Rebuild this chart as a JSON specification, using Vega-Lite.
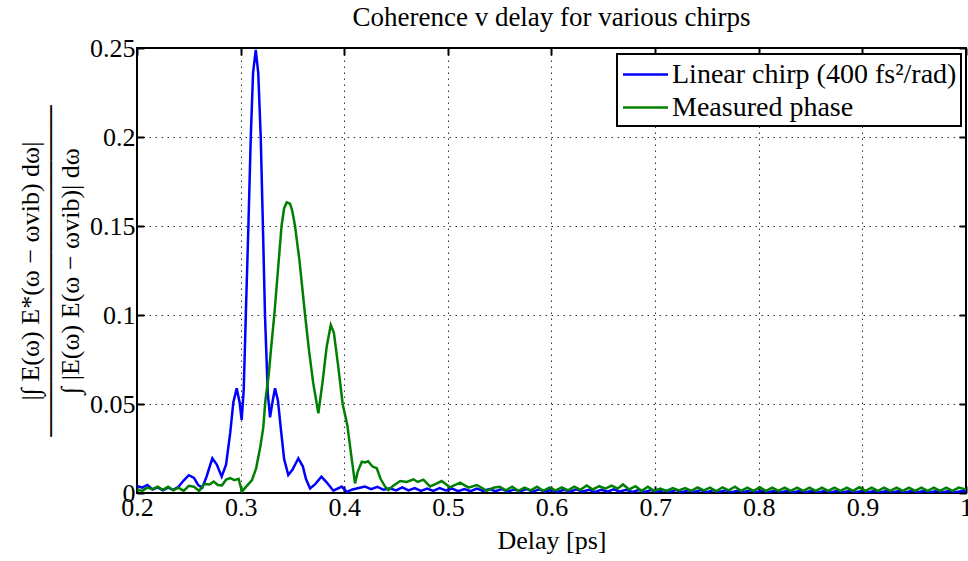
{
  "$schema": "https://vega.github.io/schema/vega-lite/v6.json",
  "autosize": "none",
  "width": 829,
  "height": 445,
  "padding": {"left": 137, "top": 48, "right": 2, "bottom": 68},
  "background": "white",
  "config": {"font": "Liberation Serif", "view": {"stroke": "black", "strokeWidth": 2}},
  "title": {"text": "Coherence v delay for various chirps", "font": "Liberation Serif", "fontSize": 27, "fontWeight": "normal", "color": "black", "anchor": "middle", "offset": 3},
  "datasets": {
    "lin": [
{"series":"Linear","delay":0.200,"coh":0.004},{"series":"Linear","delay":0.205,"coh":0.003},{"series":"Linear","delay":0.210,"coh":0.0045},{"series":"Linear","delay":0.215,"coh":0.002},{"series":"Linear","delay":0.220,"coh":0.0032},{"series":"Linear","delay":0.225,"coh":0.0015},{"series":"Linear","delay":0.230,"coh":0.003},{"series":"Linear","delay":0.235,"coh":0.0018},{"series":"Linear","delay":0.240,"coh":0.0035},{"series":"Linear","delay":0.245,"coh":0.007},{"series":"Linear","delay":0.250,"coh":0.0100},{"series":"Linear","delay":0.255,"coh":0.0085},{"series":"Linear","delay":0.259,"coh":0.0045},{"series":"Linear","delay":0.263,"coh":0.003},{"series":"Linear","delay":0.267,"coh":0.009},{"series":"Linear","delay":0.2727,"coh":0.0195},{"series":"Linear","delay":0.277,"coh":0.016},{"series":"Linear","delay":0.2817,"coh":0.0092},{"series":"Linear","delay":0.286,"coh":0.016},{"series":"Linear","delay":0.290,"coh":0.034},{"series":"Linear","delay":0.293,"coh":0.051},{"series":"Linear","delay":0.2962,"coh":0.0588},{"series":"Linear","delay":0.299,"coh":0.051},{"series":"Linear","delay":0.301,"coh":0.041},{"series":"Linear","delay":0.303,"coh":0.058},{"series":"Linear","delay":0.305,"coh":0.1},{"series":"Linear","delay":0.3075,"coh":0.15},{"series":"Linear","delay":0.3098,"coh":0.2},{"series":"Linear","delay":0.312,"coh":0.236},{"series":"Linear","delay":0.3146,"coh":0.249},{"series":"Linear","delay":0.317,"coh":0.236},{"series":"Linear","delay":0.3194,"coh":0.2},{"series":"Linear","delay":0.3215,"coh":0.15},{"series":"Linear","delay":0.3235,"coh":0.1},{"series":"Linear","delay":0.3262,"coh":0.056},{"series":"Linear","delay":0.3284,"coh":0.0425},{"series":"Linear","delay":0.331,"coh":0.052},{"series":"Linear","delay":0.3332,"coh":0.0588},{"series":"Linear","delay":0.336,"coh":0.052},{"series":"Linear","delay":0.339,"coh":0.035},{"series":"Linear","delay":0.342,"coh":0.019},{"series":"Linear","delay":0.346,"coh":0.0101},{"series":"Linear","delay":0.350,"coh":0.013},{"series":"Linear","delay":0.3557,"coh":0.0195},{"series":"Linear","delay":0.360,"coh":0.015},{"series":"Linear","delay":0.363,"coh":0.008},{"series":"Linear","delay":0.367,"coh":0.0026},{"series":"Linear","delay":0.372,"coh":0.005},{"series":"Linear","delay":0.378,"coh":0.0092},{"series":"Linear","delay":0.383,"coh":0.006},{"series":"Linear","delay":0.3895,"coh":0.0013},{"series":"Linear","delay":0.3976,"coh":0.0036},{"series":"Linear","delay":0.4024,"coh":0.0006},{"series":"Linear","delay":0.408,"coh":0.002},{"series":"Linear","delay":0.414,"coh":0.0028},{"series":"Linear","delay":0.420,"coh":0.0036},{"series":"Linear","delay":0.426,"coh":0.0022},{"series":"Linear","delay":0.432,"coh":0.0035},{"series":"Linear","delay":0.438,"coh":0.0018},{"series":"Linear","delay":0.444,"coh":0.0026},{"series":"Linear","delay":0.450,"coh":0.0015},{"series":"Linear","delay":0.456,"coh":0.0032},{"series":"Linear","delay":0.462,"coh":0.0015},{"series":"Linear","delay":0.468,"coh":0.0028},{"series":"Linear","delay":0.474,"coh":0.0012},{"series":"Linear","delay":0.480,"coh":0.0025},{"series":"Linear","delay":0.486,"coh":0.0012},{"series":"Linear","delay":0.492,"coh":0.0028},{"series":"Linear","delay":0.498,"coh":0.0015},{"series":"Linear","delay":0.504,"coh":0.0025},{"series":"Linear","delay":0.510,"coh":0.001},{"series":"Linear","delay":0.516,"coh":0.0022},{"series":"Linear","delay":0.522,"coh":0.001},{"series":"Linear","delay":0.528,"coh":0.0025},{"series":"Linear","delay":0.534,"coh":0.0012},{"series":"Linear","delay":0.540,"coh":0.0022},{"series":"Linear","delay":0.546,"coh":0.001},{"series":"Linear","delay":0.552,"coh":0.0022},{"series":"Linear","delay":0.558,"coh":0.0008},{"series":"Linear","delay":0.564,"coh":0.002},{"series":"Linear","delay":0.570,"coh":0.001},{"series":"Linear","delay":0.576,"coh":0.0022},{"series":"Linear","delay":0.582,"coh":0.0008},{"series":"Linear","delay":0.588,"coh":0.002},{"series":"Linear","delay":0.594,"coh":0.0008},{"series":"Linear","delay":0.600,"coh":0.0018},{"series":"Linear","delay":0.606,"coh":0.0006},{"series":"Linear","delay":0.612,"coh":0.0018},{"series":"Linear","delay":0.618,"coh":0.0008},{"series":"Linear","delay":0.624,"coh":0.002},{"series":"Linear","delay":0.630,"coh":0.0008},{"series":"Linear","delay":0.636,"coh":0.0018},{"series":"Linear","delay":0.642,"coh":0.0006},{"series":"Linear","delay":0.648,"coh":0.0018},{"series":"Linear","delay":0.654,"coh":0.0008},{"series":"Linear","delay":0.660,"coh":0.002},{"series":"Linear","delay":0.666,"coh":0.0008},{"series":"Linear","delay":0.672,"coh":0.0018},{"series":"Linear","delay":0.678,"coh":0.0006},{"series":"Linear","delay":0.684,"coh":0.0016},{"series":"Linear","delay":0.690,"coh":0.0006},{"series":"Linear","delay":0.696,"coh":0.0016},{"series":"Linear","delay":0.702,"coh":0.0006},{"series":"Linear","delay":0.708,"coh":0.0015},{"series":"Linear","delay":0.714,"coh":0.0006},{"series":"Linear","delay":0.720,"coh":0.0016},{"series":"Linear","delay":0.726,"coh":0.0005},{"series":"Linear","delay":0.732,"coh":0.0015},{"series":"Linear","delay":0.738,"coh":0.0006},{"series":"Linear","delay":0.744,"coh":0.0016},{"series":"Linear","delay":0.750,"coh":0.0005},{"series":"Linear","delay":0.756,"coh":0.0015},{"series":"Linear","delay":0.762,"coh":0.0006},{"series":"Linear","delay":0.768,"coh":0.0015},{"series":"Linear","delay":0.774,"coh":0.0005},{"series":"Linear","delay":0.780,"coh":0.0014},{"series":"Linear","delay":0.786,"coh":0.0006},{"series":"Linear","delay":0.792,"coh":0.0015},{"series":"Linear","delay":0.798,"coh":0.0005},{"series":"Linear","delay":0.804,"coh":0.0014},{"series":"Linear","delay":0.810,"coh":0.0006},{"series":"Linear","delay":0.816,"coh":0.0014},{"series":"Linear","delay":0.822,"coh":0.0005},{"series":"Linear","delay":0.828,"coh":0.0014},{"series":"Linear","delay":0.834,"coh":0.0005},{"series":"Linear","delay":0.840,"coh":0.0013},{"series":"Linear","delay":0.846,"coh":0.0005},{"series":"Linear","delay":0.852,"coh":0.0014},{"series":"Linear","delay":0.858,"coh":0.0005},{"series":"Linear","delay":0.864,"coh":0.0013},{"series":"Linear","delay":0.870,"coh":0.0005},{"series":"Linear","delay":0.876,"coh":0.0013},{"series":"Linear","delay":0.882,"coh":0.0005},{"series":"Linear","delay":0.888,"coh":0.0013},{"series":"Linear","delay":0.894,"coh":0.0004},{"series":"Linear","delay":0.900,"coh":0.0013},{"series":"Linear","delay":0.906,"coh":0.0005},{"series":"Linear","delay":0.912,"coh":0.0012},{"series":"Linear","delay":0.918,"coh":0.0004},{"series":"Linear","delay":0.924,"coh":0.0012},{"series":"Linear","delay":0.930,"coh":0.0005},{"series":"Linear","delay":0.936,"coh":0.0012},{"series":"Linear","delay":0.942,"coh":0.0004},{"series":"Linear","delay":0.948,"coh":0.0012},{"series":"Linear","delay":0.954,"coh":0.0004},{"series":"Linear","delay":0.960,"coh":0.0012},{"series":"Linear","delay":0.966,"coh":0.0004},{"series":"Linear","delay":0.972,"coh":0.0012},{"series":"Linear","delay":0.978,"coh":0.0004},{"series":"Linear","delay":0.984,"coh":0.0012},{"series":"Linear","delay":0.990,"coh":0.0004},{"series":"Linear","delay":0.996,"coh":0.0011},{"series":"Linear","delay":1.000,"coh":0.0008}
    ],
    "meas": [
{"series":"Measured","delay":0.200,"coh":0.002},{"series":"Measured","delay":0.205,"coh":0.0012},{"series":"Measured","delay":0.210,"coh":0.003},{"series":"Measured","delay":0.215,"coh":0.0022},{"series":"Measured","delay":0.220,"coh":0.0035},{"series":"Measured","delay":0.225,"coh":0.0018},{"series":"Measured","delay":0.230,"coh":0.0035},{"series":"Measured","delay":0.235,"coh":0.0015},{"series":"Measured","delay":0.240,"coh":0.003},{"series":"Measured","delay":0.245,"coh":0.0012},{"series":"Measured","delay":0.250,"coh":0.004},{"series":"Measured","delay":0.255,"coh":0.0035},{"series":"Measured","delay":0.260,"coh":0.0012},{"series":"Measured","delay":0.265,"coh":0.005},{"series":"Measured","delay":0.270,"coh":0.0048},{"series":"Measured","delay":0.274,"coh":0.0064},{"series":"Measured","delay":0.278,"coh":0.0045},{"series":"Measured","delay":0.282,"coh":0.0043},{"series":"Measured","delay":0.286,"coh":0.0075},{"series":"Measured","delay":0.290,"coh":0.0084},{"series":"Measured","delay":0.294,"coh":0.0072},{"series":"Measured","delay":0.298,"coh":0.008},{"series":"Measured","delay":0.3013,"coh":0.0008},{"series":"Measured","delay":0.306,"coh":0.004},{"series":"Measured","delay":0.311,"coh":0.0073},{"series":"Measured","delay":0.315,"coh":0.014},{"series":"Measured","delay":0.319,"coh":0.026},{"series":"Measured","delay":0.3219,"coh":0.037},{"series":"Measured","delay":0.3239,"coh":0.052},{"series":"Measured","delay":0.327,"coh":0.066},{"series":"Measured","delay":0.330,"coh":0.085},{"series":"Measured","delay":0.3325,"coh":0.1},{"series":"Measured","delay":0.336,"coh":0.125},{"series":"Measured","delay":0.3395,"coh":0.15},{"series":"Measured","delay":0.342,"coh":0.16},{"series":"Measured","delay":0.3445,"coh":0.1633},{"series":"Measured","delay":0.3477,"coh":0.1625},{"series":"Measured","delay":0.350,"coh":0.158},{"series":"Measured","delay":0.3525,"coh":0.15},{"series":"Measured","delay":0.3567,"coh":0.131},{"series":"Measured","delay":0.3622,"coh":0.1},{"series":"Measured","delay":0.366,"coh":0.08},{"series":"Measured","delay":0.370,"coh":0.062},{"series":"Measured","delay":0.375,"coh":0.0448},{"series":"Measured","delay":0.379,"coh":0.062},{"series":"Measured","delay":0.383,"coh":0.082},{"series":"Measured","delay":0.387,"coh":0.0944},{"series":"Measured","delay":0.390,"coh":0.09},{"series":"Measured","delay":0.394,"coh":0.072},{"series":"Measured","delay":0.3985,"coh":0.05},{"series":"Measured","delay":0.403,"coh":0.038},{"series":"Measured","delay":0.407,"coh":0.02},{"series":"Measured","delay":0.4104,"coh":0.0054},{"series":"Measured","delay":0.413,"coh":0.012},{"series":"Measured","delay":0.417,"coh":0.0176},{"series":"Measured","delay":0.420,"coh":0.0172},{"series":"Measured","delay":0.423,"coh":0.0178},{"series":"Measured","delay":0.427,"coh":0.015},{"series":"Measured","delay":0.4314,"coh":0.0139},{"series":"Measured","delay":0.435,"coh":0.008},{"series":"Measured","delay":0.4394,"coh":0.0036},{"series":"Measured","delay":0.4426,"coh":0.0017},{"series":"Measured","delay":0.447,"coh":0.004},{"series":"Measured","delay":0.454,"coh":0.0067},{"series":"Measured","delay":0.4603,"coh":0.0062},{"series":"Measured","delay":0.4667,"coh":0.0077},{"series":"Measured","delay":0.471,"coh":0.0062},{"series":"Measured","delay":0.4764,"coh":0.0075},{"series":"Measured","delay":0.4828,"coh":0.0037},{"series":"Measured","delay":0.488,"coh":0.005},{"series":"Measured","delay":0.494,"coh":0.0067},{"series":"Measured","delay":0.502,"coh":0.0032},{"series":"Measured","delay":0.5118,"coh":0.0058},{"series":"Measured","delay":0.520,"coh":0.003},{"series":"Measured","delay":0.528,"coh":0.0045},{"series":"Measured","delay":0.5376,"coh":0.0012},{"series":"Measured","delay":0.544,"coh":0.003},{"series":"Measured","delay":0.550,"coh":0.0035},{"series":"Measured","delay":0.556,"coh":0.0015},{"series":"Measured","delay":0.562,"coh":0.0035},{"series":"Measured","delay":0.568,"coh":0.0012},{"series":"Measured","delay":0.574,"coh":0.003},{"series":"Measured","delay":0.580,"coh":0.0015},{"series":"Measured","delay":0.586,"coh":0.0035},{"series":"Measured","delay":0.592,"coh":0.0012},{"series":"Measured","delay":0.598,"coh":0.003},{"series":"Measured","delay":0.604,"coh":0.0015},{"series":"Measured","delay":0.610,"coh":0.0032},{"series":"Measured","delay":0.616,"coh":0.0015},{"series":"Measured","delay":0.622,"coh":0.0035},{"series":"Measured","delay":0.628,"coh":0.0018},{"series":"Measured","delay":0.634,"coh":0.0042},{"series":"Measured","delay":0.640,"coh":0.002},{"series":"Measured","delay":0.646,"coh":0.0038},{"series":"Measured","delay":0.652,"coh":0.0025},{"series":"Measured","delay":0.658,"coh":0.0042},{"series":"Measured","delay":0.664,"coh":0.0025},{"series":"Measured","delay":0.669,"coh":0.0048},{"series":"Measured","delay":0.675,"coh":0.002},{"series":"Measured","delay":0.681,"coh":0.0038},{"series":"Measured","delay":0.687,"coh":0.0012},{"series":"Measured","delay":0.693,"coh":0.0035},{"series":"Measured","delay":0.699,"coh":0.0012},{"series":"Measured","delay":0.705,"coh":0.0025},{"series":"Measured","delay":0.711,"coh":0.0012},{"series":"Measured","delay":0.717,"coh":0.0028},{"series":"Measured","delay":0.723,"coh":0.0015},{"series":"Measured","delay":0.729,"coh":0.0028},{"series":"Measured","delay":0.735,"coh":0.0012},{"series":"Measured","delay":0.741,"coh":0.0032},{"series":"Measured","delay":0.747,"coh":0.0015},{"series":"Measured","delay":0.753,"coh":0.003},{"series":"Measured","delay":0.759,"coh":0.001},{"series":"Measured","delay":0.765,"coh":0.0032},{"series":"Measured","delay":0.771,"coh":0.0015},{"series":"Measured","delay":0.777,"coh":0.0035},{"series":"Measured","delay":0.783,"coh":0.0012},{"series":"Measured","delay":0.789,"coh":0.003},{"series":"Measured","delay":0.795,"coh":0.0012},{"series":"Measured","delay":0.801,"coh":0.0032},{"series":"Measured","delay":0.807,"coh":0.0012},{"series":"Measured","delay":0.813,"coh":0.003},{"series":"Measured","delay":0.819,"coh":0.0012},{"series":"Measured","delay":0.825,"coh":0.003},{"series":"Measured","delay":0.831,"coh":0.0012},{"series":"Measured","delay":0.837,"coh":0.003},{"series":"Measured","delay":0.843,"coh":0.0012},{"series":"Measured","delay":0.849,"coh":0.003},{"series":"Measured","delay":0.855,"coh":0.0012},{"series":"Measured","delay":0.861,"coh":0.003},{"series":"Measured","delay":0.867,"coh":0.0012},{"series":"Measured","delay":0.873,"coh":0.003},{"series":"Measured","delay":0.879,"coh":0.0012},{"series":"Measured","delay":0.885,"coh":0.003},{"series":"Measured","delay":0.891,"coh":0.0012},{"series":"Measured","delay":0.897,"coh":0.0032},{"series":"Measured","delay":0.903,"coh":0.0012},{"series":"Measured","delay":0.909,"coh":0.003},{"series":"Measured","delay":0.915,"coh":0.0012},{"series":"Measured","delay":0.921,"coh":0.003},{"series":"Measured","delay":0.927,"coh":0.0012},{"series":"Measured","delay":0.933,"coh":0.003},{"series":"Measured","delay":0.939,"coh":0.0012},{"series":"Measured","delay":0.945,"coh":0.003},{"series":"Measured","delay":0.951,"coh":0.0012},{"series":"Measured","delay":0.957,"coh":0.003},{"series":"Measured","delay":0.963,"coh":0.0012},{"series":"Measured","delay":0.969,"coh":0.003},{"series":"Measured","delay":0.975,"coh":0.0012},{"series":"Measured","delay":0.981,"coh":0.003},{"series":"Measured","delay":0.987,"coh":0.0012},{"series":"Measured","delay":0.993,"coh":0.003},{"series":"Measured","delay":1.000,"coh":0.002}
    ]
  },
  "layer": [
    {
      "data": {"name": "lin"},
      "mark": {"type": "line", "strokeWidth": 2.5, "clip": true},
      "encoding": {
        "x": {"field": "delay", "type": "quantitative", "scale": {"domain": [0.2, 1], "nice": false},
          "axis": {"orient": "bottom", "values": [0.2,0.3,0.4,0.5,0.6,0.7,0.8,0.9,1], "format": "~f", "domain": false, "grid": true, "gridColor": "black", "gridDash": [1.5, 4.5], "gridWidth": 1, "gridOpacity": 0.8, "tickColor": "black", "tickSize": -7, "tickWidth": 2, "labelFont": "Liberation Serif", "labelFontSize": 26, "labelColor": "black", "labelPadding": 8, "labelFlush": false, "labelOverlap": false, "title": "Delay [ps]", "titleFont": "Liberation Serif", "titleFontSize": 26, "titleFontWeight": "normal", "titleColor": "black", "titlePadding": 7}},
        "y": {"field": "coh", "type": "quantitative", "scale": {"domain": [0, 0.25], "nice": false},
          "axis": {"orient": "left", "values": [0,0.05,0.1,0.15,0.2,0.25], "format": "~f", "domain": false, "grid": true, "gridColor": "black", "gridDash": [1.5, 4.5], "gridWidth": 1, "gridOpacity": 0.8, "tickColor": "black", "tickSize": -7, "tickWidth": 2, "labelFont": "Liberation Serif", "labelFontSize": 26, "labelColor": "black", "labelPadding": 9, "labelFlush": false, "labelOverlap": false,
            "title": ["|∫ E(ω) E*(ω − ωvib) dω|", "──────────────────", "∫ |E(ω) E(ω − ωvib)| dω"], "titleFont": "Liberation Serif", "titleFontSize": 26, "titleFontWeight": "normal", "titleColor": "black", "titleLineHeight": 20, "titlePadding": 6}},
        "color": {"field": "series", "type": "nominal", "scale": {"domain": ["Linear", "Measured"], "range": ["#0000ff", "#008000"]},
          "legend": {"orient": "none", "legendX": 480, "legendY": 6, "title": null, "labelExpr": "datum.label == 'Linear' ? 'Linear chirp (400 fs²/rad)' : 'Measured phase'", "labelFont": "Liberation Serif", "labelFontSize": 28, "labelColor": "black", "labelLimit": 0, "symbolType": "M-1.5,0H1.5", "symbolSize": 900, "symbolStrokeWidth": 2.5, "symbolOffset": 8, "strokeColor": "black", "fillColor": "white", "padding": 4, "rowPadding": 2, "labelOffset": 10,
            "encode": {"legend": {"update": {"strokeWidth": {"value": 2}}}}}}
      }
    },
    {
      "data": {"name": "meas"},
      "mark": {"type": "line", "strokeWidth": 2.5, "clip": true},
      "encoding": {
        "x": {"field": "delay", "type": "quantitative", "axis": {"orient": "top", "values": [0.2,0.3,0.4,0.5,0.6,0.7,0.8,0.9,1], "labels": false, "title": null, "grid": false, "domain": false, "tickColor": "black", "tickSize": -7, "tickWidth": 2}},
        "y": {"field": "coh", "type": "quantitative", "axis": {"orient": "right", "values": [0,0.05,0.1,0.15,0.2,0.25], "labels": false, "title": null, "grid": false, "domain": false, "tickColor": "black", "tickSize": -7, "tickWidth": 2}},
        "color": {"field": "series", "type": "nominal"}
      }
    }
  ],
  "resolve": {"axis": {"x": "independent", "y": "independent"}}
}
